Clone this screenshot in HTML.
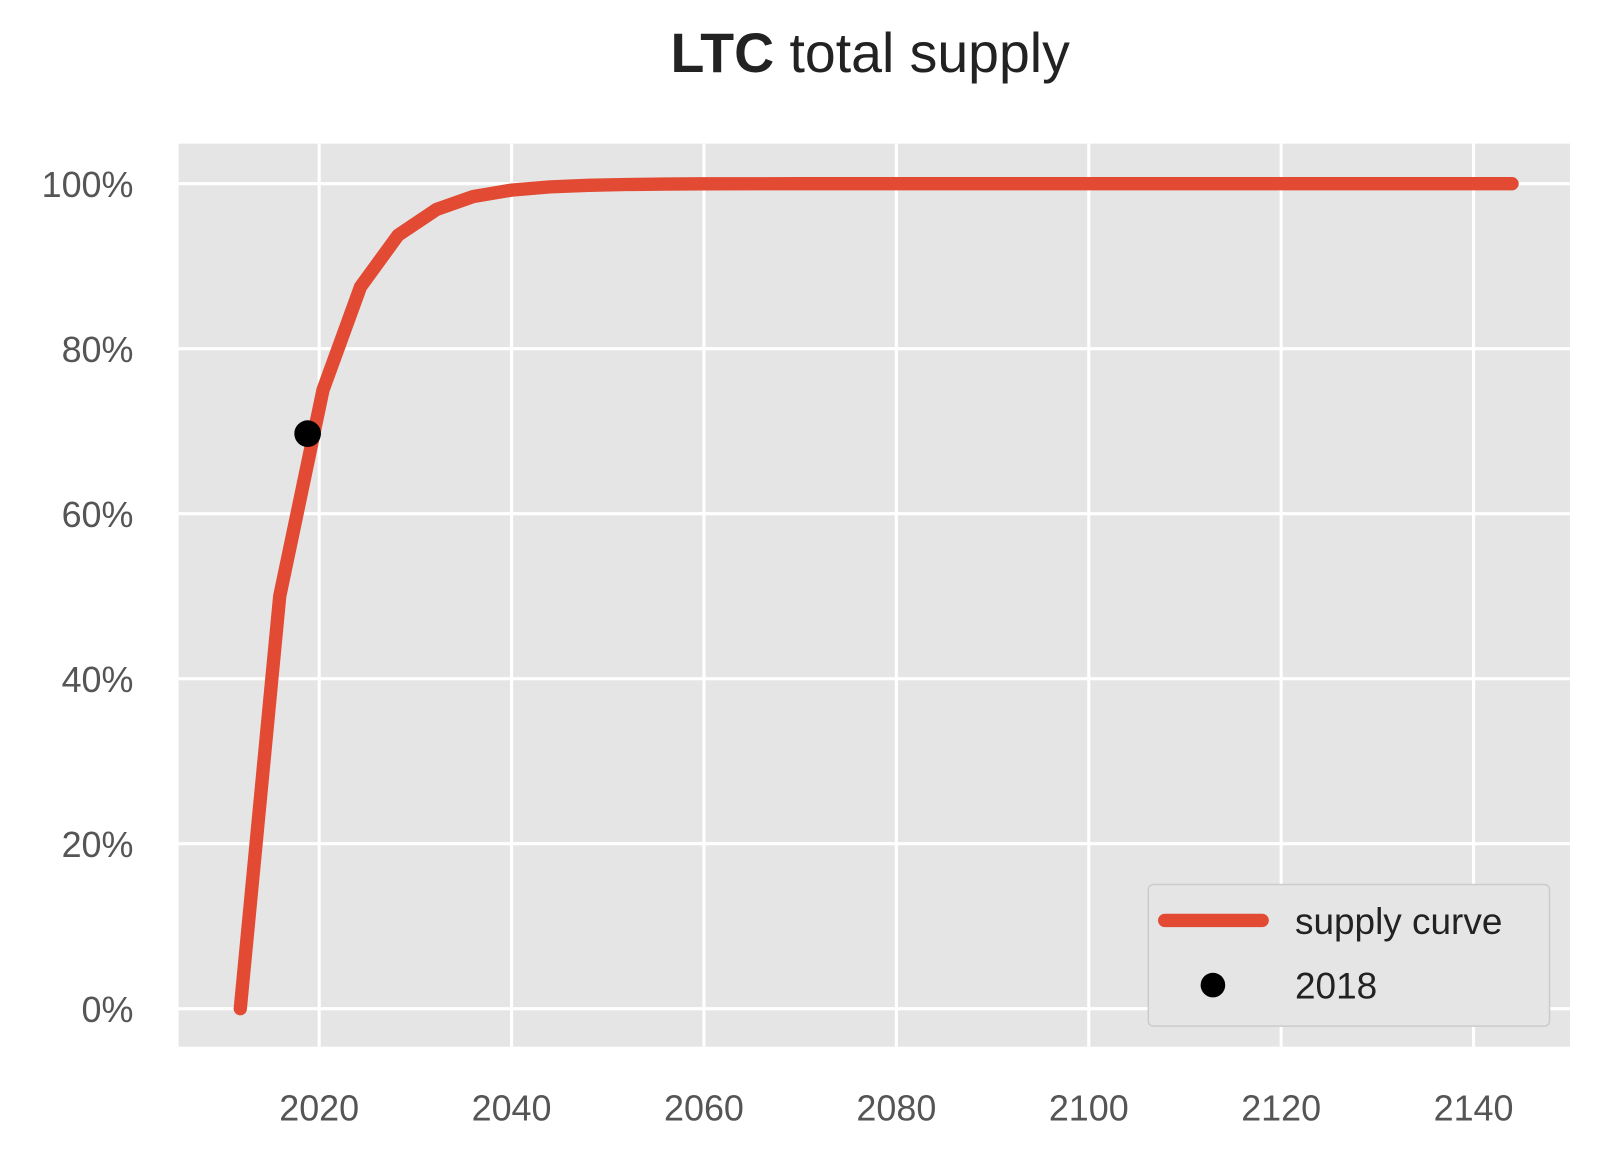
<!DOCTYPE html>
<html><head><meta charset="utf-8"><style>
body{margin:0;background:#fff;}
svg{display:block;font-family:"Liberation Sans","DejaVu Sans",sans-serif;}
</style></head><body>
<svg id="chart" width="1607" height="1159" viewBox="0 0 1566 1129.5">
<text x="848" y="70" text-anchor="middle" font-size="54" fill="#222"><tspan font-weight="bold">LTC</tspan> total supply</text>
<rect x="174" y="140" width="1356" height="880" fill="#e5e5e5"/>
<g id="grid"></g><g id="ticks"></g><g id="series"></g>
<g>
<rect x="1119" y="862" width="391" height="138" rx="5" fill="#e5e5e5" stroke="#cccccc" stroke-width="1.5"/>
<line x1="1135" y1="897" x2="1230" y2="897" stroke="#E24A33" stroke-width="13" stroke-linecap="round"/>
<text x="1262" y="910" font-size="36" fill="#222">supply curve</text>
<circle cx="1182" cy="960" r="12" fill="#000"/>
<text x="1262" y="973" font-size="36" fill="#222">2018</text>
</g>
</svg>
<script>
const years=[2011.8,2015.9,2020.4,2024.3,2028.2,2032.2,2036.0,2040.0,2044.0,2048.0,2052.0,2056.0,2060.0,2070.0,2080.0,2100.0,2120.0,2144.0];
const supplyPct=[0,50,75,87.5,93.75,96.88,98.44,99.22,99.61,99.8,99.9,99.95,99.98,100,100,100,100,100];
const markerYear=[2018.8];
const markerPct=[69.7];
const xTicks=[2020,2040,2060,2080,2100,2120,2140];
const yTicks=[0,20,40,60,80,100];
const NS="http://www.w3.org/2000/svg";
function x(v){return 311+(v-2020)*9.375;}
function y(v){return 983-v*8.04;}
function mk(tag,attrs,parent){const e=document.createElementNS(NS,tag);for(const k in attrs)e.setAttribute(k,attrs[k]);parent.appendChild(e);return e;}
const grid=document.getElementById('grid'),ticks=document.getElementById('ticks'),series=document.getElementById('series');
xTicks.forEach(t=>{
 const l=mk('line',{x1:x(t),x2:x(t),y1:140,y2:1020,stroke:'#fff','stroke-width':3},grid);
 
 
 const tx=mk('text',{x:x(t),y:1092,'text-anchor':'middle','font-size':35,fill:'#555'},ticks);
 tx.textContent=t;
 
 
});
yTicks.forEach(t=>{
 const l=mk('line',{x1:174,x2:1530,y1:y(t),y2:y(t),stroke:'#fff','stroke-width':3},grid);
 
 
 const tx=mk('text',{x:130,y:y(t)+13,'text-anchor':'end','font-size':35,fill:'#555'},ticks);
 tx.textContent=t+'%';
 
 
});
const pts=years.map((v,i)=>x(v)+','+y(supplyPct[i])).join(' ');
const pl=mk('polyline',{points:pts,fill:'none',stroke:'#E24A33','stroke-width':13,'stroke-linecap':'round','stroke-linejoin':'round'},series);


markerYear.forEach((v,i)=>{
 const c=mk('circle',{cx:x(v),cy:y(markerPct[i]),r:13,fill:'#000'},series);
 
 
});
</script>
</body></html>
